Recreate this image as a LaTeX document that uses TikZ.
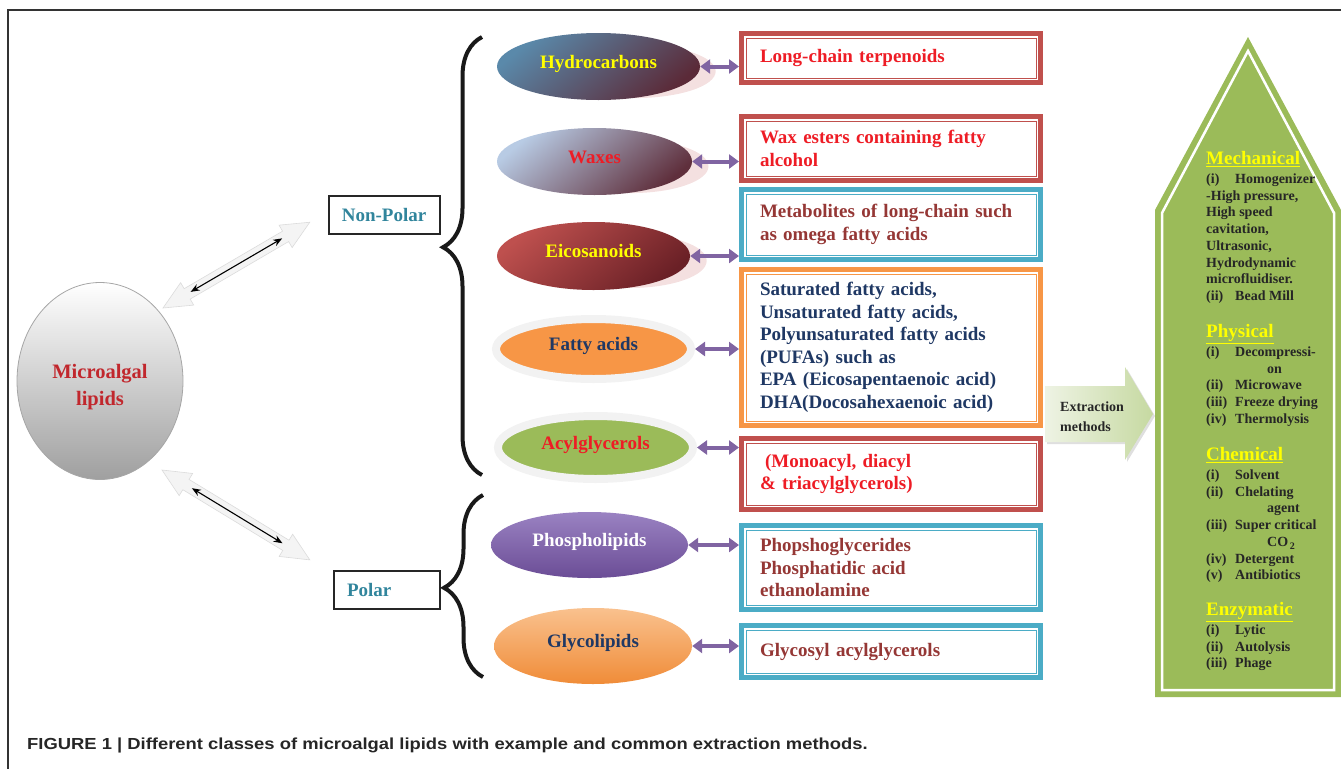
\documentclass[tikz,border=0pt]{standalone}
\usepackage{fontspec}
\setmainfont{Liberation Serif}
\newfontfamily\capfont[FakeStretch=1.15]{Liberation Sans}
\usepackage{tikz}
\usetikzlibrary{shapes.geometric, positioning, arrows.meta, decorations.pathreplacing, shadows}
\definecolor{boxred}{HTML}{C0504D}
\definecolor{boxteal}{HTML}{4BACC6}
\definecolor{boxorange}{HTML}{F79646}
\definecolor{txtred}{HTML}{EE1C25}
\definecolor{txtmaroon}{HTML}{953735}
\definecolor{txtnavy}{HTML}{1F3864}
\definecolor{npteal}{HTML}{31859C}
\definecolor{lipidred}{HTML}{C1272D}
\definecolor{arrowpurple}{HTML}{8064A2}
\definecolor{panelgreen}{HTML}{9BBB59}
\definecolor{headyellow}{HTML}{FFFF00}
\definecolor{reflpink}{HTML}{F4E0E0}
\definecolor{hcblue}{HTML}{5A89AA}
\definecolor{hcdark}{HTML}{5B2A38}
\definecolor{wxblue}{HTML}{B8CBE4}
\definecolor{wxdark}{HTML}{5F2F3C}
\definecolor{eclight}{HTML}{BE504E}
\definecolor{ecdark}{HTML}{6A2026}
\definecolor{phtop}{HTML}{9A82C2}
\definecolor{phbot}{HTML}{6B4D96}
\definecolor{gltop}{HTML}{F9C18E}
\definecolor{glbot}{HTML}{F08C38}
\definecolor{exlight}{HTML}{EEF3E4}
\definecolor{exdark}{HTML}{C6D9A1}
\newcommand{\mhead}[1]{{\fontsize{19}{20}\selectfont\color{headyellow}\underline{#1}}}
\newcommand{\mitem}[2]{\makebox[29pt][l]{#1}#2}

\begin{document}
\begin{tikzpicture}[x=1pt, y=-1pt,
  lbl/.style={font=\bfseries\fontsize{19}{22.5}\selectfont},
  lipid/.style={ellipse, inner sep=0pt, lbl, text height=13pt, text depth=10pt},
  rim/.style={lipid, draw=black!5, line width=8pt},
  refl/.style={general shadow={fill=reflpink, shadow scale=.8, shadow xshift=45pt, shadow yshift=-6pt}},
  exbox/.style={draw=#1, line width=5pt, fill=white, lbl, align=left,
    text width=262pt, inner xsep=18.5pt, inner ysep=0pt, minimum width=299pt,
    path picture={\draw[#1, line width=1pt]
      ([shift={(4.5pt,-4.5pt)}]path picture bounding box.north west) rectangle
      ([shift={(-4.5pt,4.5pt)}]path picture bounding box.south east);}},
  pa/.style={{Triangle[length=10pt,width=14pt]}-{Triangle[length=10pt,width=14pt]}, arrowpurple, line width=4pt},
  grp/.style={draw=black!85, line width=2pt, lbl, text=npteal, minimum height=38pt},
  bk/.style={{Stealth[length=9pt,width=7pt]}-{Stealth[length=9pt,width=7pt]}, line width=1.1pt},
  fat/.style={fill=gray!9, draw=gray!28, line width=.6pt},
  brc/.style={decorate, decoration={brace, amplitude=39pt, aspect=#1}, line width=4pt, black!90},
  meth/.style={anchor=north west, inner sep=0pt, align=left,
    font=\bfseries\fontsize{14}{16.7}\selectfont, text=black!85}]
\useasboundingbox (0,0) rectangle (1341,769);
\draw[black!80, line width=1.5pt] (1341,10) -- (8,10) -- (8,769);

% microalgal lipids and the two groups
\node[ellipse, minimum width=166pt, minimum height=197pt, inner sep=0pt,
  top color=white, bottom color=gray!75, draw=gray!70, line width=.8pt,
  font=\bfseries\fontsize{20.5}{27}\selectfont, text=lipidred, align=center] (ml) at (100,381)
  {\rule{0pt}{26pt}Microalgal\\lipids};
\node[grp, minimum width=111pt] (np) at (384,215) {Non-Polar};
\node[grp, minimum width=106pt, text width=80pt, align=left, inner xsep=13pt] (pol) at (387,589.5) {Polar};

\begin{scope}[shift={(163,308)}, rotate=30.3]
  \draw[fat] (0,0) -- (28,-13) -- (28,-6) -- (142,-6) -- (142,-13) -- (170,0)
    -- (142,13) -- (142,6) -- (28,6) -- (28,13) -- cycle;
  \coordinate (u1) at (32,0);
  \coordinate (u2) at (138,0);
\end{scope}
\begin{scope}[shift={(162,470)}, rotate=-31.3]
  \draw[fat] (0,0) -- (28,-13) -- (28,-6) -- (145,-6) -- (145,-13) -- (173,0)
    -- (145,13) -- (145,6) -- (28,6) -- (28,13) -- cycle;
  \coordinate (d1) at (35,0);
  \coordinate (d2) at (141,0);
\end{scope}
\draw[bk] (u1) -- (u2);
\draw[bk] (d1) -- (d2);

\draw[brc=.52] (482,475) -- (482,37);
\draw[brc=.49] (483,677) -- (483,495);

% lipid classes
\node[lipid, refl, minimum width=203pt, minimum height=67pt, top color=hcblue, bottom color=hcdark,
  shading angle=40, text=headyellow] (hydro) at (598.5,66.5) {Hydrocarbons};
\node[lipid, refl, minimum width=195pt, minimum height=67pt, top color=wxblue, bottom color=wxdark,
  shading angle=40, text=txtred] (wax) at (594.5,161.5) {Waxes};
\node[lipid, refl, minimum width=193pt, minimum height=68pt, top color=eclight, bottom color=ecdark,
  shading angle=40, text=headyellow] (eico) at (593.5,256) {Eicosanoids};
\node[rim, minimum width=195pt, minimum height=60pt, fill=boxorange, text=txtnavy] (fatty) at (593.5,349) {Fatty acids};
\node[rim, minimum width=195pt, minimum height=63pt, fill=panelgreen, text=txtred] (acyl) at (595.5,447.5) {Acylglycerols};
\node[lipid, minimum width=197pt, minimum height=66pt, top color=phtop, bottom color=phbot,
  text=white] (phos) at (589.5,545) {Phospholipids};
\node[lipid, minimum width=198pt, minimum height=76pt, top color=gltop, bottom color=glbot,
  text=txtnavy] (glyco) at (593,646) {Glycolipids};

% examples
\node[exbox=boxred, minimum height=49pt, text=txtred] (terp) at (891,58) {Long-chain terpenoids};
\node[exbox=boxred, minimum height=64pt, text=txtred] (wxest) at (891,148.5) {Wax esters containing fatty\\alcohol};
\node[exbox=boxteal, minimum height=70pt, text=txtmaroon] (meta) at (891,224.5) {Metabolites of long-chain such\\as omega fatty acids};
\node[exbox=boxorange, minimum height=156pt, text=txtnavy] (fa) at (891,347.5)
  {Saturated fatty acids,\\Unsaturated fatty acids,\\Polyunsaturated fatty acids\\(PUFAs) such as\\EPA (Eicosapentaenoic acid)\\DHA(Docosahexaenoic acid)};
\node[exbox=boxred, minimum height=71pt, text=txtred] (mdt) at (891,474) {\hspace*{5pt}(Monoacyl, diacyl\\\& triacylglycerols)};
\node[exbox=boxteal, minimum height=84pt, text=txtmaroon] (pg) at (891,567.5) {Phopshoglycerides\\Phosphatidic acid\\ethanolamine};
\node[exbox=boxteal, minimum height=52pt, text=txtmaroon] (gly) at (891,651.5) {Glycosyl acylglycerols};

\draw[pa] (hydro.east) -- (hydro.east -| terp.west);
\draw[pa] (wax.east) -- (wax.east -| wxest.west);
\draw[pa] (eico.east) -- (eico.east -| meta.west);
\draw[pa] (fatty.east) -- (fatty.east -| fa.west);
\draw[pa] (acyl.east) -- (acyl.east -| mdt.west);
\draw[pa] (phos.east) -- (phos.east -| pg.west);
\draw[pa] (glyco.east) -- (glyco.east -| gly.west);

% extraction methods
\fill[panelgreen] (1155,697) -- (1155,210) -- (1248,37) -- (1341,210) -- (1341,697) -- cycle;
\draw[white, line width=2.5pt] (1162,690) -- (1162,213) -- (1248,51) -- (1334,213) -- (1334,690) -- cycle;
\shade[left color=exlight, right color=exdark, drop shadow={opacity=.25, shadow xshift=2pt, shadow yshift=-2pt}]
  (1045,386) -- (1125,386) -- (1125,367) -- (1153,414) -- (1125,460) -- (1125,442) -- (1045,442) -- cycle;
\node[anchor=west, inner sep=0pt, align=left, font=\bfseries\fontsize{14}{20}\selectfont, text=black!85] (ext) at (1060,417) {Extraction\\methods};

\node[meth] (mech) at (1206,151.5) {\mhead{Mechanical}\\[2pt]
  \mitem{(i)}{Homogenizer}\\-High pressure,\\High speed\\cavitation,\\Ultrasonic,\\Hydrodynamic\\microfluidiser.\\
  \mitem{(ii)}{Bead Mill}};
\node[meth] (phys) at (1206,324.5) {\mhead{Physical}\\[2pt]
  \mitem{(i)}{Decompressi-}\\\hspace*{61pt}on\\\mitem{(ii)}{Microwave}\\\mitem{(iii)}{Freeze drying}\\\mitem{(iv)}{Thermolysis}};
\node[meth] (chem) at (1206,447.5) {\mhead{Chemical}\\[2pt]
  \mitem{(i)}{Solvent}\\\mitem{(ii)}{Chelating}\\\hspace*{61pt}agent\\\mitem{(iii)}{Super critical}\\
  \hspace*{61pt}CO\raisebox{-3pt}{\fontsize{10}{10}\selectfont\,2}\\\mitem{(iv)}{Detergent}\\\mitem{(v)}{Antibiotics}};
\node[meth] (enz) at (1206,602.5) {\mhead{Enzymatic}\\[2pt]
  \mitem{(i)}{Lytic}\\\mitem{(ii)}{Autolysis}\\\mitem{(iii)}{Phage}};

\node[anchor=base west, inner sep=0pt, font=\capfont\bfseries\fontsize{16}{18}\selectfont, text=black!85] (cap) at (27,749)
  {FIGURE 1 | Different classes of microalgal lipids with example and common extraction methods.};
\end{tikzpicture}
\end{document}
